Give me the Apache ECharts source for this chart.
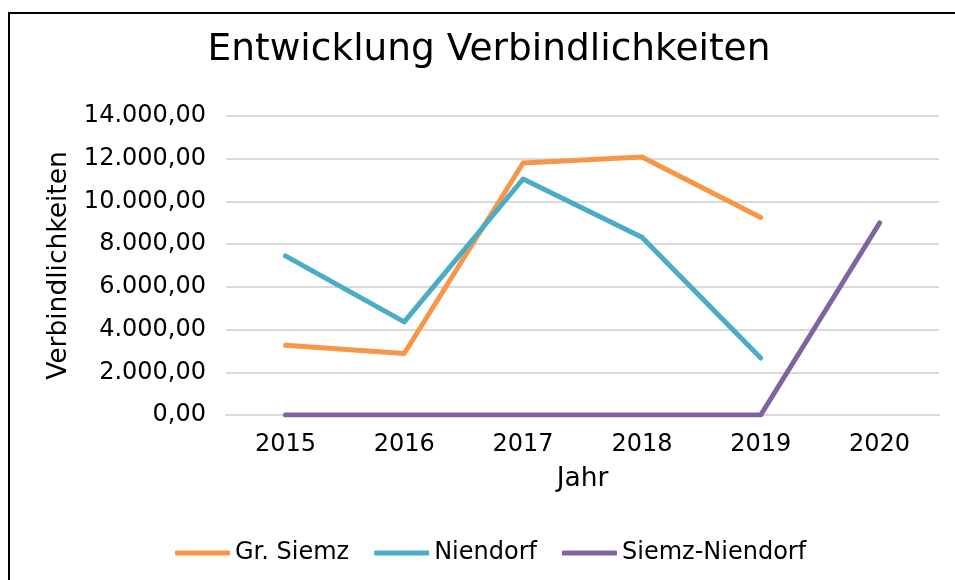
<!DOCTYPE html>
<html>
<head>
<meta charset="utf-8">
<script src="https://cdn.jsdelivr.net/npm/echarts@6/dist/echarts.min.js"></script>
<style>
  html, body { margin: 0; padding: 0; background: #fff; }
  #chart { width: 955px; height: 580px; }
</style>
</head>
<body>
<div id="chart"></div>
<script>
const years = ["2015", "2016", "2017", "2018", "2019", "2020"];
const grSiemz = [3270, 2880, 11800, 12080, 9250, null];
const niendorf = [7450, 4360, 11050, 8320, 2670, null];
const siemzNiendorf = [0, 0, 0, 0, 0, 8990];

const font = "DejaVu Sans";

// 14000 -> "14.000,00"
function fmt(v) {
  const parts = Math.round(v).toString().replace(/\B(?=(\d{3})+(?!\d))/g, ".");
  return parts + ",00";
}

function lineSeries(name, data, color) {
  return {
    name: name,
    type: "line",
    data: data,
    symbol: "none",
    lineStyle: { width: 5, color: color, cap: "round", join: "round" },
    itemStyle: { color: color },
    connectNulls: false,
  };
}

const chart = echarts.init(document.getElementById("chart"));
chart.setOption({
  animation: false,
  backgroundColor: "#fff",
  textStyle: { fontFamily: font, color: "#000" },
  title: {
    text: "Entwicklung Verbindlichkeiten",
    left: 484,
    textAlign: "center",
    top: 26,
    textStyle: { fontFamily: font, fontSize: 37.5, fontWeight: "normal", color: "#000" },
  },
  graphic: [
    {
      type: "rect",
      shape: { x: 9, y: 13, width: 1000, height: 600 },
      style: { fill: null, stroke: "#000", lineWidth: 2 },
      silent: true,
    },
  ],
  legend: {
    bottom: 10,
    left: 170,
    itemWidth: 55,
    itemHeight: 5,
    itemGap: 25,
    icon: "roundRect",
    textStyle: { fontFamily: font, fontSize: 24, color: "#000" },
    data: ["Gr. Siemz", "Niendorf", "Siemz-Niendorf"],
  },
  grid: { left: 226, right: 16, top: 116, bottom: 165 },
  xAxis: {
    type: "category",
    data: years,
    boundaryGap: true,
    name: "Jahr",
    nameLocation: "middle",
    nameGap: 51,
    nameTextStyle: { fontFamily: font, fontSize: 26.5, color: "#000" },
    axisLine: { lineStyle: { color: "#d9d9d9", width: 2 } },
    axisTick: { show: false },
    axisLabel: { fontFamily: font, fontSize: 24, color: "#000", margin: 18 },
  },
  yAxis: {
    type: "value",
    min: 0,
    max: 14000,
    interval: 2000,
    name: "Verbindlichkeiten",
    nameLocation: "middle",
    nameGap: 144,
    nameRotate: 90,
    nameTextStyle: { fontFamily: font, fontSize: 26.5, color: "#000" },
    axisLine: { show: false },
    axisTick: { show: false },
    splitLine: { lineStyle: { color: "#d9d9d9", width: 2 } },
    axisLabel: { fontFamily: font, fontSize: 24, color: "#000", margin: 20, formatter: fmt },
  },
  series: [
    lineSeries("Gr. Siemz", grSiemz, "#f79646"),
    lineSeries("Niendorf", niendorf, "#4bacc6"),
    lineSeries("Siemz-Niendorf", siemzNiendorf, "#8064a2"),
  ],
});
</script>
</body>
</html>
